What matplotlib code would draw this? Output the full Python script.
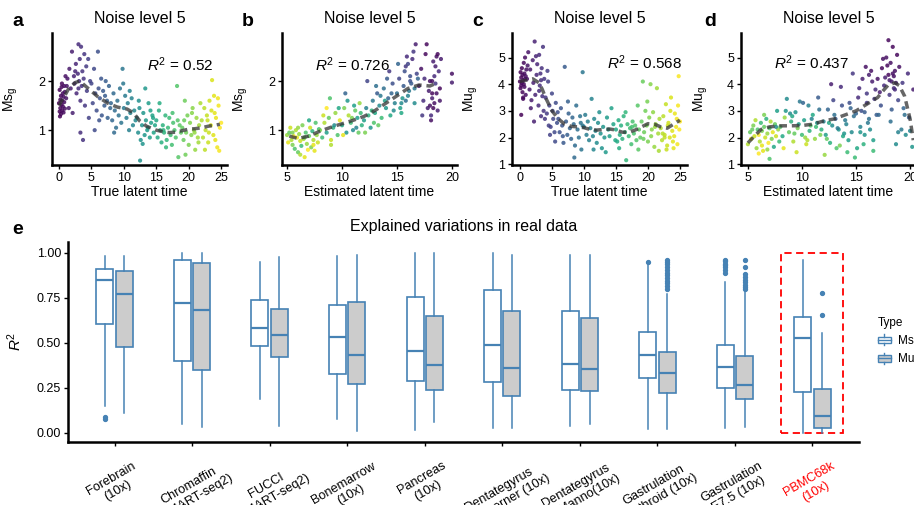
import numpy as np
import matplotlib
matplotlib.use('Agg')
from matplotlib import pyplot as plt
from matplotlib.patches import Patch, Rectangle
from matplotlib.lines import Line2D
from matplotlib.legend_handler import HandlerBase

plt.rcParams['font.family'] = ['Liberation Sans', 'DejaVu Sans']
plt.rcParams['mathtext.fontset'] = 'custom'
plt.rcParams['mathtext.rm'] = 'Liberation Sans'
plt.rcParams['mathtext.it'] = 'Liberation Sans:italic'

# ---------------- panel a : true time vs Ms ----------------
a_time = [0.0,0.1,0.1,0.2,0.2,0.3,0.3,0.4,0.4,0.5,0.5,0.6,0.6,0.7,0.7,0.8,0.8,0.9,0.9,1.0,0.15,0.45,
          1.1,1.3,1.5,1.6,1.8,2.0,2.1,2.3,2.4,2.6,2.7,2.9,3.0,3.1,3.2,3.3,3.4,3.5,3.6,3.7,3.8,3.9,4.0,4.2,4.3,4.5,4.6,4.8,1.2,2.5,3.0,3.3,
          5.0,5.2,5.4,5.6,5.8,6.0,6.1,6.3,6.5,6.6,6.8,7.0,7.2,7.4,7.5,7.7,7.9,5.5,6.2,7.1,
          8.0,8.2,8.4,8.6,8.8,9.0,9.2,9.4,9.6,9.8,10.0,10.2,10.4,10.6,10.8,11.0,11.2,11.4,11.6,11.8,8.5,9.9,10.9,
          12.0,12.2,12.4,12.6,12.8,13.0,13.2,13.4,13.6,13.8,14.0,14.2,14.4,14.6,14.8,12.5,13.3,14.1,12.9,13.7,14.5,12.3,
          15.0,15.2,15.4,15.6,15.8,16.0,16.2,16.4,16.6,16.8,17.0,17.2,17.4,17.6,17.8,18.0,18.2,18.4,18.6,18.8,15.5,16.5,17.5,18.3,16.1,
          19.0,19.2,19.4,19.6,19.8,20.0,20.2,20.4,20.6,20.8,21.0,21.2,21.4,21.6,21.8,19.5,20.5,21.5,19.3,20.9,
          22.0,22.2,22.4,22.6,22.8,23.0,23.2,23.4,23.6,23.8,24.0,24.2,24.4,24.6,24.8,25.0,22.5,23.5,24.5,23.1,24.1,22.9,23.9,24.7]
a_ms = [1.55,1.82,1.38,1.62,1.45,1.70,1.33,1.52,1.88,1.40,1.60,1.75,1.48,1.36,1.68,1.57,1.90,1.44,1.78,2.10,1.28,1.95,
        1.65,2.05,1.45,2.25,1.85,2.60,1.35,2.10,1.95,2.35,1.75,2.15,2.75,2.00,2.45,1.60,2.70,1.90,2.20,0.80,2.05,2.55,1.50,2.30,1.80,2.45,1.25,2.00,1.90,2.20,1.85,0.95,
        1.95,1.55,2.25,1.75,1.40,2.60,1.85,1.65,2.05,1.30,1.80,1.50,2.00,1.60,1.25,1.90,1.45,1.00,1.20,1.70,
        1.55,1.20,1.75,1.40,1.05,1.60,1.30,1.85,1.15,2.25,1.45,1.70,1.25,1.55,1.00,1.35,1.65,1.10,1.40,1.20,0.95,1.95,1.80,
        1.25,0.95,1.45,0.80,1.10,1.35,0.90,1.20,1.00,1.55,0.85,1.15,1.30,0.95,1.10,0.38,1.85,1.40,0.72,1.05,1.25,1.60,
        1.20,0.85,1.40,1.00,0.75,1.10,0.95,1.30,0.80,1.05,1.25,0.90,0.70,1.15,1.00,0.85,1.90,0.45,1.10,0.95,1.55,0.65,1.35,1.20,1.00,
        1.05,0.80,1.60,0.95,1.30,0.70,1.15,0.90,1.45,1.00,0.60,1.25,0.85,1.10,1.55,0.50,1.35,0.75,1.20,0.95,
        1.20,0.85,1.45,1.00,1.30,0.75,1.60,1.10,2.02,0.90,1.35,1.25,0.65,1.50,1.05,1.15,0.60,1.40,1.65,0.95,0.80,1.20,1.70,0.58]
a_trend_x = [0,0.4,0.8,1.5,2.5,3.2,4.5,6,7.5,9,10.5,11.5,12.5,13.5,15,16,17,18,19,20,21,22,23,24,24.8]
a_trend_y = [1.5,1.6,1.68,1.85,1.97,2.0,1.85,1.68,1.55,1.47,1.43,1.35,1.18,1.08,1.0,0.97,0.95,0.96,0.99,1.02,1.03,1.05,1.08,1.1,1.12]

# ---------------- panel b : estimated time vs Ms ----------------
b_est = [5.0,5.1,5.2,5.3,5.4,5.5,5.6,5.7,5.8,5.9,6.0,6.1,6.2,6.3,6.4,6.5,6.6,6.7,6.8,6.9,7.0,7.1,7.2,7.3,7.4,7.5,7.6,7.7,7.8,7.9,5.5,6.2,6.6,7.0,7.4,6.0,
         8.0,8.2,8.4,8.6,8.8,9.0,9.2,9.4,9.6,9.8,10.0,10.2,10.4,10.6,10.8,11.0,11.2,11.4,11.6,11.8,8.3,8.9,9.3,9.7,10.1,10.5,10.9,11.3,11.7,9.0,10.3,11.1,8.6,11.5,
         12.0,12.2,12.4,12.6,12.8,13.0,13.2,13.4,13.6,13.8,14.0,14.2,14.4,14.6,14.8,12.3,12.9,13.5,14.1,14.7,12.1,13.1,13.9,14.5,12.7,13.3,14.3,
         15.0,15.2,15.4,15.6,15.8,16.0,16.2,16.4,16.6,16.8,15.1,15.5,15.9,16.3,16.7,15.3,15.7,16.1,16.5,16.9,15.4,16.0,16.6,15.8,16.2,
         17.0,17.2,17.4,17.6,17.8,18.0,18.1,18.2,18.3,18.4,18.5,18.6,18.7,18.8,18.9,19.0,17.3,17.7,18.0,18.2,18.4,18.6,18.3,18.5,17.5,18.1,18.9,17.9,18.7,18.2,
         20.0,20.0]
b_ms = [0.90,0.75,0.95,1.05,0.80,0.70,0.88,0.62,1.00,0.85,0.55,0.92,0.78,0.68,1.10,0.82,0.45,0.95,0.72,0.60,0.88,1.05,0.65,0.98,0.80,0.58,1.15,0.90,0.75,1.02,0.95,0.50,0.85,1.20,0.70,1.05,
        1.00,0.85,1.15,0.95,1.25,0.80,1.05,1.35,0.90,1.20,1.10,1.45,0.95,1.30,1.15,1.00,1.40,1.25,1.55,1.10,1.30,1.65,1.10,1.45,0.90,1.60,1.25,1.05,1.35,0.70,1.75,1.50,1.45,0.95,
        1.20,1.45,1.30,1.05,1.60,1.35,1.75,1.50,1.25,1.85,1.45,1.65,1.30,1.95,1.55,2.00,1.15,1.70,2.05,1.40,0.95,1.90,1.60,1.75,1.40,1.10,2.20,
        1.75,2.05,1.55,1.90,2.30,1.70,2.00,2.45,1.85,2.15,2.35,1.65,2.50,1.95,2.75,1.45,2.20,1.80,2.60,2.05,1.35,2.35,1.55,1.60,2.10,
        1.90,2.25,1.60,2.55,1.45,2.00,1.30,1.75,2.40,1.55,1.95,2.50,1.40,2.20,1.85,2.45,1.30,2.75,1.50,1.65,2.10,1.75,1.45,2.30,2.05,1.20,1.60,1.80,2.55,2.00,
        2.15,1.97]
b_true = [21,24,19,23,22,20,25,18,22,24,19,21,23,17,20,22,24,18,21,25,19,23,20,16,22,24,18,21,23,17,20,22,19,15,24,21,
          20,17,22,14,19,23,16,21,18,24,15,20,13,22,17,12,19,14,21,16,23,18,12,15,24,13,20,11,17,22,8,14,25,19,
          14,11,16,13,10,15,7,12,17,9,13,8,15,6,11,5,18,10,7,12,20,9,14,8,16,19,4,
          9,5,12,7,4,11,6,3,10,5,8,13,3,7,2,14,6,10,4,8,15,5,12,9,6,
          2,1,3,0.5,2,1,3,0.5,2,1,4,1,2,3,0.5,2,4,0.5,1,2,3,1,0.5,2,3,1,1.5,2,0.5,1,
          1,2]
b_trend_x = [5.2,6,7,8,9,10,11,12,13,14,15,16,17,18,18.7]
b_trend_y = [0.88,0.83,0.88,0.98,1.06,1.13,1.2,1.28,1.4,1.55,1.7,1.85,1.92,1.9,1.97]

# ---------------- panel c : true time vs Mu ----------------
c_time = [0.0,0.1,0.1,0.2,0.2,0.3,0.3,0.4,0.4,0.5,0.5,0.6,0.6,0.7,0.7,0.8,0.8,0.9,0.9,1.0,0.2,0.5,
          1.1,1.3,1.5,1.6,1.8,2.0,2.1,2.3,2.4,2.6,2.7,2.9,3.0,3.1,3.2,3.3,3.4,3.5,3.6,3.7,3.8,3.9,1.2,2.5,3.0,1.7,2.2,3.3,
          4.0,4.2,4.4,4.6,4.8,5.0,5.2,5.4,5.6,5.8,4.3,4.7,5.1,5.5,4.5,5.9,
          6.0,6.2,6.4,6.6,6.8,7.0,7.2,7.4,7.6,7.8,8.0,8.2,8.4,8.6,8.8,9.0,9.2,9.4,9.6,9.8,6.7,7.5,8.5,9.5,
          10.0,10.2,10.4,10.6,10.8,11.0,11.2,11.4,11.6,11.8,12.0,12.2,12.4,12.6,12.8,13.0,13.2,13.4,13.6,13.8,14.0,14.3,14.6,14.9,9.8,11.5,
          15.0,15.2,15.4,15.6,15.8,16.0,16.2,16.4,16.6,16.8,17.0,17.2,17.4,17.6,17.8,18.0,18.2,18.4,18.6,18.8,15.5,16.5,17.5,18.5,
          19.0,19.2,19.4,19.6,19.8,20.0,20.2,20.4,20.6,20.8,21.0,21.2,21.4,21.6,21.8,19.3,19.9,20.5,21.1,21.7,
          22.0,22.2,22.4,22.6,22.8,23.0,23.2,23.4,23.6,23.8,24.0,24.2,24.4,24.6,24.8,25.0,22.3,22.9,23.5,24.1,24.7,23.1,23.9,24.5,22.6,24.9]
c_mu = [4.10,4.45,3.85,4.25,3.95,4.60,4.05,3.70,4.35,4.15,3.50,4.80,4.00,4.40,3.90,4.20,5.00,3.60,4.30,4.55,2.85,3.45,
        4.20,5.20,3.80,4.55,3.40,4.90,4.05,5.60,3.60,4.35,4.75,3.20,5.10,3.95,4.40,2.80,4.60,3.55,5.40,3.00,4.20,2.70,4.70,5.05,3.75,3.10,2.60,4.15,
        3.50,2.90,4.10,3.20,2.40,3.65,2.70,2.20,3.30,2.55,4.50,2.10,3.00,1.85,2.45,2.95,
        2.70,2.20,3.10,2.45,1.80,4.65,2.60,2.10,2.90,2.35,1.95,2.75,2.50,1.70,3.20,2.30,2.00,2.80,1.55,2.45,2.05,3.35,1.25,2.55,
        2.40,2.85,2.10,2.60,1.90,2.35,3.45,2.05,2.70,2.25,1.80,2.55,2.95,2.15,1.60,2.40,2.00,1.45,2.75,2.30,2.05,3.10,2.50,1.90,4.45,1.55,
        2.30,1.85,2.65,2.10,2.45,1.95,2.80,2.20,1.15,2.50,2.05,2.35,1.75,2.60,2.15,2.45,1.90,3.20,2.30,2.00,1.60,2.95,2.40,1.55,
        2.60,4.10,2.20,3.00,2.45,1.85,2.75,4.00,2.30,2.95,1.65,2.50,3.85,2.15,2.70,1.95,3.35,2.05,2.40,1.50,
        2.35,1.90,2.80,2.10,3.25,1.70,2.55,2.00,3.50,2.25,1.60,2.90,2.40,1.75,4.30,2.60,2.15,1.55,3.00,2.05,3.20,2.45,1.85,2.70,2.00,2.30]
c_trend_x = [0,1,2,3,3.5,4,5,6,7,8,9,10,11,12,13,14,15,16,17,18,19,20,21,22,23,24,25]
c_trend_y = [4.1,4.15,4.2,4.05,3.8,3.5,3.0,2.7,2.5,2.42,2.4,2.37,2.3,2.28,2.3,2.32,2.28,2.2,2.2,2.28,2.4,2.52,2.5,2.4,2.35,2.5,2.65]

# ---------------- panel d : estimated time vs Mu ----------------
d_est = [5.0,5.2,5.3,5.5,5.6,5.8,5.9,6.0,6.1,6.2,6.3,6.4,6.5,6.6,6.7,6.8,6.9,7.0,7.1,7.2,7.3,7.4,7.5,7.6,7.7,7.8,7.9,6.0,6.5,7.0,5.7,6.3,7.6,6.8,5.4,
         8.0,8.2,8.4,8.6,8.8,9.0,9.2,9.4,9.6,9.8,10.0,10.2,10.4,10.6,10.8,11.0,11.2,11.4,11.6,11.8,8.3,8.9,9.3,9.7,10.1,10.5,10.9,11.3,11.7,8.5,9.5,10.7,11.5,9.1,10.3,
         12.0,12.2,12.4,12.6,12.8,13.0,13.2,13.4,13.6,13.8,14.0,14.2,14.4,14.6,14.8,12.3,12.9,13.5,14.1,14.7,12.1,13.1,13.9,14.5,12.7,13.3,14.3,12.5,13.7,14.9,
         15.0,15.2,15.4,15.6,15.8,16.0,16.2,16.4,16.6,16.8,15.1,15.5,15.9,16.3,16.7,15.3,15.7,16.1,16.5,16.9,15.4,16.0,16.6,15.8,16.2,
         17.0,17.2,17.4,17.6,17.8,18.0,18.1,18.2,18.3,18.4,18.5,18.6,18.7,18.8,18.9,19.0,17.3,17.7,18.0,18.2,18.4,18.6,17.5,18.1,18.9,17.9,18.7,18.3,17.1,18.5,
         19.2,19.4,19.6,19.8,20.0,20.2,19.5,19.9,20.3,19.3]
d_mu = [1.75,2.20,1.95,2.45,2.05,1.60,2.30,2.10,1.85,2.55,2.25,1.50,2.40,2.00,2.70,2.15,1.80,2.35,2.60,1.95,2.20,1.65,2.50,2.05,3.00,2.30,1.85,1.40,2.85,1.20,2.65,1.70,2.40,1.55,2.30,
        2.40,2.05,2.75,3.45,2.20,2.60,1.85,2.95,2.35,3.35,2.10,2.65,1.75,3.20,2.45,2.85,1.95,2.55,3.05,2.30,1.60,2.90,2.15,2.50,3.30,1.90,2.70,2.40,2.10,3.00,1.45,2.25,3.50,2.80,2.00,
        2.60,2.10,3.05,1.80,2.45,2.85,1.60,2.30,3.90,2.05,2.65,1.45,3.30,2.20,2.80,1.95,3.40,1.70,2.50,4.40,1.35,2.70,2.15,3.10,4.00,2.35,1.90,2.55,3.20,1.25,
        2.90,3.50,2.40,4.20,2.10,3.30,2.70,4.50,1.90,3.80,1.60,3.00,4.65,2.30,3.45,3.85,1.75,2.55,4.10,2.85,2.20,3.65,1.50,2.95,4.35,
        4.20,3.70,4.60,3.95,5.00,4.35,3.60,4.80,4.10,5.40,3.85,4.50,4.05,5.10,3.40,4.65,3.20,4.25,5.65,2.60,4.40,3.80,4.95,4.15,2.20,4.70,1.75,3.05,2.85,4.30,
        2.30,3.10,2.10,4.40,2.25,1.65,2.85,2.75,3.80,4.05]
d_true = [22,19,24,20,23,21,18,25,22,17,20,24,19,23,16,21,25,18,22,20,24,15,19,23,14,21,17,25,20,18,22,24,12,21,19,
          18,15,21,12,19,16,22,13,20,10,17,14,23,11,18,15,21,13,9,16,24,12,19,14,8,22,11,17,20,13,23,16,7,15,21,
          11,14,8,16,12,9,18,13,3,15,10,17,6,12,9,19,5,20,11,4,21,7,13,8,2,10,14,15,6,17,
          8,3,11,2,13,4,9,1,14,3,15,6,1,12,4,3,16,10,2,7,13,4,17,7,2,
          1,2,0.5,3,1,0.5,4,1,2,0.5,3,1,2,0.5,5,1,6,2,0.5,9,1,3,1,2,11,0.5,12,7,8,1,
          10,8,12,3,11,13,9,7,2,4]
d_trend_x = [5,5.6,6.2,7,8,9,10,11,12,13,14,15,16,17,17.5,18,18.6,19,19.5,20,20.3]
d_trend_y = [1.8,2.05,2.3,2.4,2.44,2.44,2.45,2.5,2.62,2.7,2.85,3.0,3.25,3.5,3.75,3.98,4.05,3.95,3.55,2.7,1.9]

# ---------------- panel e : explained variations ----------------
datasets = ['Forebrain\n(10x)', 'Chromaffin\n(SMART-seq2)', 'FUCCI\n(SMART-seq2)', 'Bonemarrow\n(10x)',
            'Pancreas\n(10x)', 'Dentategyrus\nHochgerner (10x)', 'Dentategyrus\nLaManno(10x)',
            'Gastrulation\nerythroid (10x)', 'Gastrulation\nE7.5 (10x)', 'PBMC68k\n(10x)']
ms_q1 = [0.604, 0.40, 0.483, 0.324, 0.285, 0.284, 0.235, 0.302, 0.247, 0.228]
ms_med = [0.847, 0.719, 0.583, 0.53, 0.454, 0.489, 0.383, 0.432, 0.367, 0.528]
ms_q3 = [0.91, 0.96, 0.737, 0.709, 0.754, 0.791, 0.678, 0.561, 0.487, 0.645]
ms_lo = [0.148, 0.047, 0.185, 0.074, 0.015, 0.024, 0.039, 0.019, 0.028, 0.0]
ms_hi = [0.983, 0.997, 0.95, 0.98, 1.0, 0.997, 0.987, 0.93, 0.835, 0.96]
ms_out = [[0.075, 0.085], [], [], [], [], [], [], [0.95],
          [0.89, 0.905, 0.92, 0.93, 0.94, 0.955, 0.96], []]
mu_q1 = [0.478, 0.348, 0.42, 0.269, 0.237, 0.206, 0.232, 0.222, 0.185, 0.024]
mu_med = [0.769, 0.682, 0.543, 0.432, 0.374, 0.359, 0.354, 0.332, 0.267, 0.093]
mu_q3 = [0.90, 0.941, 0.689, 0.728, 0.648, 0.676, 0.635, 0.447, 0.426, 0.245]
mu_lo = [0.108, 0.033, 0.039, 0.011, 0.058, 0.024, 0.047, 0.019, 0.03, 0.0]
mu_hi = [0.983, 0.997, 0.974, 0.99, 1.0, 0.987, 0.987, 0.771, 0.783, 0.552]
mu_out = [[], [], [], [], [], [], [],
          [0.80, 0.815, 0.83, 0.845, 0.86, 0.875, 0.89, 0.905, 0.92, 0.935, 0.95, 0.96],
          [0.80, 0.81, 0.82, 0.835, 0.85, 0.865, 0.88, 0.92, 0.96],
          [0.654, 0.774]]
type_names = ['Ms', 'Mu']
type_fill = ['white', '#cccccc']

blue = '#4682B4'
W, H = 914, 505

fig = plt.figure(figsize=(W/100, H/100), dpi=100)


def style_axes(ax):
	for s in ['top', 'right']:
		ax.spines[s].set_visible(False)
	for s in ['left', 'bottom']:
		ax.spines[s].set_linewidth(1.8)
	ax.tick_params(length=3, width=1, labelsize=9, pad=2)


def scatter_panel(left, x, y, c, tx, ty, xlim, ylim, xticks, yticks, xlabel, ylabel, r2, r2pos, letter, letter_x):
	ax = fig.add_axes([left/W, 1 - 165/H, 175/W, 132/H])
	ax.scatter(x, y, c=c, cmap='viridis', vmin=0, vmax=25, s=9, alpha=0.85, linewidths=0)
	ax.plot(tx, ty, color='#333333', alpha=0.75, lw=2.5, dashes=(2.2, 1.4))
	ax.set_xlim(xlim)
	ax.set_ylim(ylim)
	ax.set_xticks(xticks)
	ax.set_yticks(yticks)
	style_axes(ax)
	ax.set_xlabel(xlabel, fontsize=10, labelpad=1)
	ax.set_ylabel(ylabel, fontsize=10)
	ax.yaxis.set_label_coords(-0.18, 0.5)
	ax.set_title('Noise level 5', fontsize=11.5, pad=7)
	ax.text(r2pos[0], r2pos[1], r'$R^2$ = ' + r2, transform=ax.transAxes, fontsize=11, ha='center', va='center')
	fig.text(letter_x/W, 1 - 21/H, letter, fontsize=14, fontweight='bold', va='center', ha='center')
	return ax


scatter_panel(52, a_time, a_ms, a_time, a_trend_x, a_trend_y, (-1.08, 25.9), (0.29, 2.98),
              [0, 5, 10, 15, 20, 25], [1, 2], 'True latent time', r'Ms$_\mathregular{g}$', '0.52', (0.735, 0.76), 'a', 18)
scatter_panel(282, b_est, b_ms, b_true, b_trend_x, b_trend_y, (4.54, 20.46), (0.29, 2.98),
              [5, 10, 15, 20], [1, 2], 'Estimated latent time', r'Ms$_\mathregular{g}$', '0.726', (0.40, 0.76), 'b', 248)
scatter_panel(512, c_time, c_mu, c_time, c_trend_x, c_trend_y, (-1.24, 26.1), (0.97, 5.92),
              [0, 5, 10, 15, 20, 25], [1, 2, 3, 4, 5], 'True latent time', r'Mu$_\mathregular{g}$', '0.568', (0.755, 0.775), 'c', 478)
scatter_panel(741, d_est, d_mu, d_true, d_trend_x, d_trend_y, (4.36, 20.55), (0.97, 5.92),
              [5, 10, 15, 20], [1, 2, 3, 4, 5], 'Estimated latent time', r'Mu$_\mathregular{g}$', '0.437', (0.40, 0.775), 'd', 710)

# ---- e ----
ax = fig.add_axes([68/W, 1 - 441.7/H, 791/W, 199.7/H])
pos = np.arange(1, len(datasets) + 1)


def make_stats(q1, med, q3, lo, hi, out):
	return [dict(q1=q1[i], med=med[i], q3=q3[i], whislo=lo[i], whishi=hi[i], fliers=out[i]) for i in range(len(q1))]


common = dict(widths=0.22, patch_artist=True, showcaps=False,
              medianprops=dict(color=blue, lw=1.6),
              whiskerprops=dict(color=blue, lw=1.1),
              flierprops=dict(marker='o', markersize=2.8, markerfacecolor=blue, markeredgecolor=blue))
ax.bxp(make_stats(ms_q1, ms_med, ms_q3, ms_lo, ms_hi, ms_out), positions=pos - 0.125,
       boxprops=dict(facecolor=type_fill[0], edgecolor=blue, lw=1.2), **common)
ax.bxp(make_stats(mu_q1, mu_med, mu_q3, mu_lo, mu_hi, mu_out), positions=pos + 0.125,
       boxprops=dict(facecolor=type_fill[1], edgecolor=blue, lw=1.2), **common)

ax.add_patch(Rectangle((9.6, 0.0), 0.8, 1.0, fill=False, edgecolor='red', lw=1.3, ls=(0, (4, 2.5)), clip_on=False))

ax.set_xlim(0.4, 10.6)
ax.set_ylim(-0.05, 1.06)
ax.set_yticks([0, 0.25, 0.5, 0.75, 1.0])
ax.set_yticklabels(['0.00', '0.25', '0.50', '0.75', '1.00'])
style_axes(ax)
ax.set_xticks(pos)
ax.set_xticklabels(datasets, rotation=30, ha='center', va='top', fontsize=9.2)
ax.tick_params(axis='x', pad=10)
ax.get_xticklabels()[-1].set_color('red')
ax.set_ylabel(r'$R^2$', fontsize=11)
ax.yaxis.set_label_coords(-0.055, 0.5)
ax.set_title('Explained variations in real data', fontsize=11.5, pad=8)
fig.text(18/W, 1 - 229/H, 'e', fontsize=14, fontweight='bold', va='center', ha='center')


# boxplot-shaped legend keys, like ggplot draws them
class BoxKey(HandlerBase):
	def __init__(self, fill):
		super().__init__()
		self.fill = fill

	def create_artists(self, legend, orig, xd, yd, width, height, fontsize, trans):
		cx = xd + width/2
		box = Rectangle((xd, yd + height*0.1), width, height*0.8, facecolor=self.fill,
		                edgecolor=blue, lw=1.0, transform=trans)
		mid = Line2D([xd, xd + width], [yd + height/2]*2, color=blue, lw=1.0, transform=trans)
		top = Line2D([cx, cx], [yd + height*0.9, yd + height*1.15], color=blue, lw=1.0, transform=trans)
		bot = Line2D([cx, cx], [yd - height*0.15, yd + height*0.1], color=blue, lw=1.0, transform=trans)
		return [box, mid, top, bot]


handles = [Patch(facecolor=f, edgecolor=blue, label=n) for n, f in zip(type_names, type_fill)]
fig.legend(handles=handles, title='Type', loc='center left', bbox_to_anchor=(867/W, 1 - 341/H),
           frameon=False, fontsize=8.5, title_fontsize=8.5, handlelength=1.1, handleheight=0.7,
           handletextpad=0.6, labelspacing=0.55, alignment='left',
           handler_map={h: BoxKey(f) for h, f in zip(handles, type_fill)})

fig.savefig('out.png', dpi=100)
